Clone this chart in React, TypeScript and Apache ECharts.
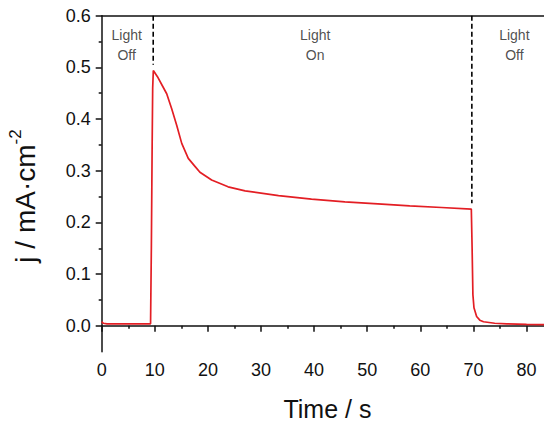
import React, { useEffect, useRef } from 'react';
import * as echarts from 'echarts';

const timeS = [0, 0.3, 1, 5, 9.2, 9.35, 9.5, 9.6, 9.72, 10.5, 11.5, 12.24, 13.18, 14.12, 15.07, 16.3, 17.6, 18.5, 20.7, 23.8, 27, 33.3, 39.5, 45.8, 52, 58, 64, 69.6, 69.75, 69.9, 70.1, 70.6, 71.2, 71.9, 74, 76.3, 80, 85];
const currentJ = [0.008, 0.005, 0.004, 0.004, 0.004, 0.15, 0.35, 0.46, 0.494, 0.482, 0.463, 0.449, 0.42, 0.388, 0.353, 0.324, 0.308, 0.297, 0.282, 0.269, 0.261, 0.252, 0.245, 0.24, 0.236, 0.232, 0.229, 0.226, 0.15, 0.06, 0.035, 0.018, 0.011, 0.008, 0.005, 0.004, 0.003, 0.002];

const switchTimes = [9.7, 69.7];
const dashEnds = [0.505, 0.237];

const labelTimes = [4.7, 40.2, 77.7];
const labelTexts = ['Light\nOff', 'Light\nOn', 'Light\nOff'];
const labelLevel = 0.5425;

const xMajorTicks = [0, 10, 20, 30, 40, 50, 60, 70, 80];
const xMinorTicks = [5, 15, 25, 35, 45, 55, 65, 75];
const yMajorTicks = [0, 0.1, 0.2, 0.3, 0.4, 0.5, 0.6];
const yMinorTicks = [0.05, 0.15, 0.25, 0.35, 0.45, 0.55];

const FONT = "'Liberation Sans', Arial, sans-serif";
const AXIS_COLOR = '#111';

export default function App() {
  const ref = useRef<HTMLDivElement>(null);
  useEffect(() => {
    if (!ref.current) return;
    const chart = echarts.init(ref.current, undefined, { renderer: 'svg' });
    const lineData = timeS.map((t, i) => [t, currentJ[i]]);
    const dashSeries = switchTimes.map((t, i) => ({
      type: 'line',
      xAxisIndex: 0,
      yAxisIndex: 0,
      data: [[t, 0.6], [t, dashEnds[i]]],
      showSymbol: false,
      symbol: 'none',
      silent: true,
      lineStyle: { color: '#000', width: 1.6, type: [5, 3] },
    }));
    const xBase = { type: 'value', min: 0, max: 85, gridIndex: 0, splitLine: { show: false } };
    const yBase = { type: 'value', min: -0.05, max: 0.6, gridIndex: 0, splitLine: { show: false } };
    chart.setOption({
      animation: false,
      backgroundColor: '#fff',
      grid: { left: 101.7, top: 15.7, right: -9.1, bottom: 71.3, containLabel: false, outerBoundsMode: 'none' },
      xAxis: [
        {
          ...xBase,
          position: 'bottom',
          axisLine: { show: true, lineStyle: { color: AXIS_COLOR, width: 1.5 } },
          axisTick: { show: true, inside: false, length: 6, customValues: xMajorTicks, lineStyle: { color: AXIS_COLOR, width: 1.5 } },
          axisLabel: { show: true, customValues: xMajorTicks, fontSize: 18, margin: 9, color: AXIS_COLOR, fontFamily: FONT },
          name: 'Time / s',
          nameLocation: 'middle',
          nameGap: 45,
          nameTextStyle: { fontSize: 25, color: AXIS_COLOR, fontFamily: FONT },
        },
        {
          ...xBase,
          position: 'bottom',
          axisLine: { show: false },
          axisTick: { show: true, inside: false, length: 3, customValues: xMinorTicks, lineStyle: { color: AXIS_COLOR, width: 1.5 } },
          axisLabel: { show: false },
        },
        {
          ...xBase,
          position: 'top',
          axisLine: { show: true, lineStyle: { color: AXIS_COLOR, width: 1.5 } },
          axisTick: { show: false },
          axisLabel: { show: false },
        },
      ],
      yAxis: [
        {
          ...yBase,
          position: 'left',
          axisLine: { show: true, lineStyle: { color: AXIS_COLOR, width: 1.5 } },
          axisTick: { show: true, inside: false, length: 6, customValues: yMajorTicks, lineStyle: { color: AXIS_COLOR, width: 1.5 } },
          axisLabel: {
            show: true,
            customValues: yMajorTicks,
            fontSize: 18,
            margin: 11,
            color: AXIS_COLOR,
            fontFamily: FONT,
            formatter: (v: number) => v.toFixed(1),
          },
        },
        {
          ...yBase,
          position: 'left',
          axisLine: { show: false },
          axisTick: { show: true, inside: false, length: 3, customValues: yMinorTicks, lineStyle: { color: AXIS_COLOR, width: 1.5 } },
          axisLabel: { show: false },
        },
      ],
      graphic: [
        {
          type: 'text',
          x: 23,
          y: 196,
          rotation: Math.PI / 2,
          style: {
            text: '{a|j / mA·cm}{b|-2}',
            align: 'center',
            verticalAlign: 'middle',
            fill: AXIS_COLOR,
            rich: {
              a: { fontSize: 28, fontFamily: FONT, fill: AXIS_COLOR, color: AXIS_COLOR, verticalAlign: 'bottom', lineHeight: 32 },
              b: { fontSize: 17, fontFamily: FONT, fill: AXIS_COLOR, color: AXIS_COLOR, verticalAlign: 'top', lineHeight: 32 },
            },
          },
        },
      ],
      series: [
        {
          type: 'line',
          xAxisIndex: 0,
          yAxisIndex: 0,
          data: lineData,
          showSymbol: false,
          symbol: 'none',
          lineStyle: { color: '#e31e24', width: 1.7 },
          z: 3,
        },
        ...dashSeries,
        {
          type: 'scatter',
          xAxisIndex: 0,
          yAxisIndex: 0,
          data: labelTimes.map((t) => [t, labelLevel]),
          symbolSize: 1,
          itemStyle: { color: 'rgba(0,0,0,0)' },
          silent: true,
          label: {
            show: true,
            position: 'inside',
            formatter: (p: any) => labelTexts[p.dataIndex],
            fontSize: 14,
            lineHeight: 20,
            color: '#222',
            fontFamily: FONT,
            align: 'center',
            verticalAlign: 'middle',
          },
        },
      ],
    });
    return () => chart.dispose();
  }, []);
  return <div ref={ref} style={{ position: 'absolute', left: 0, top: 0, width: 544, height: 423 }} />;
}
